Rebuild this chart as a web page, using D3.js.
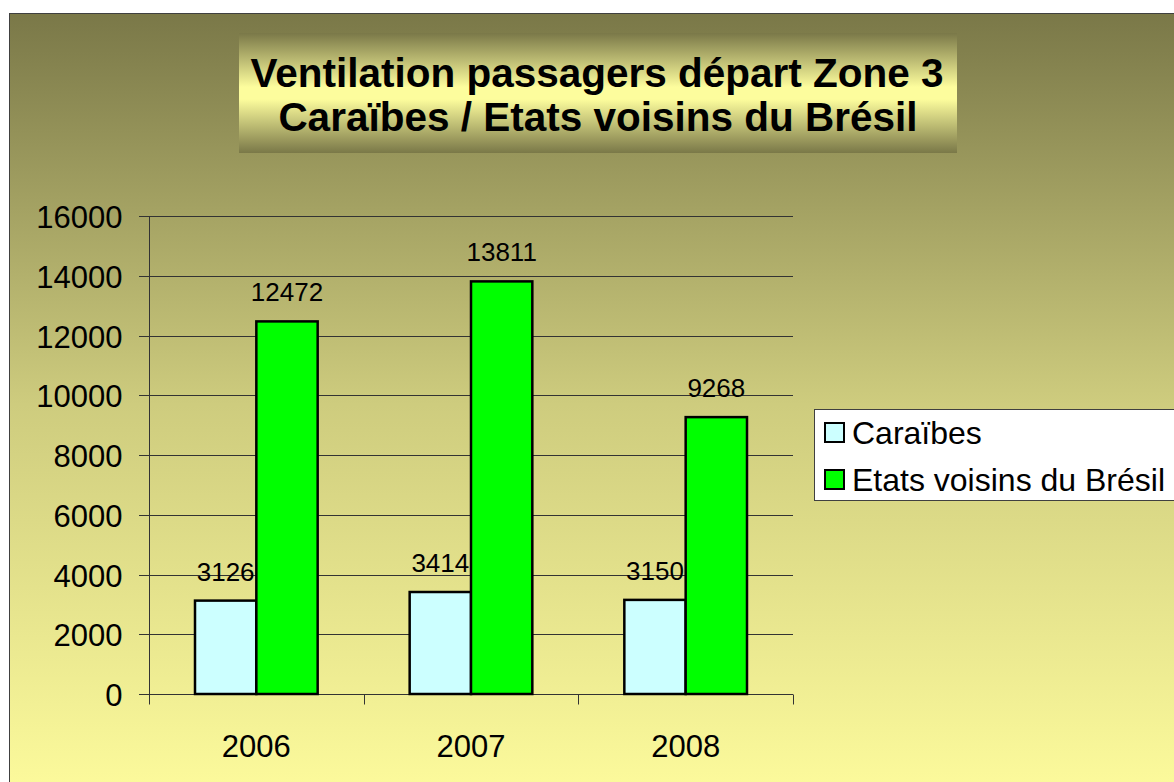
<!DOCTYPE html>
<html>
<head>
<meta charset="utf-8">
<script src="https://cdn.jsdelivr.net/npm/d3@7"></script>
<style>
  body { margin: 0; background: #fff; }
  text { font-family: Arial, "Liberation Sans", sans-serif; }
</style>
</head>
<body>
<div id="chart"></div>
<script>
// données
var years = ['2006', '2007', '2008'];
var seriesNames = ['Caraïbes', 'Etats voisins du Brésil'];
var caraibes = [3126, 3414, 3150];
var etatsVoisins = [12472, 13811, 9268];
var yTicks = [0, 2000, 4000, 6000, 8000, 10000, 12000, 14000, 16000];
var colors = ['#ccffff', '#00ff00'];

(function () {
    var W = 1174, H = 782;
    var svg = d3.select('#chart').append('svg').attr('width', W).attr('height', H);
    var defs = svg.append('defs');

    var bg = defs.append('linearGradient').attr('id', 'bg').attr('x1', 0).attr('y1', 0).attr('x2', 0).attr('y2', 1);
    bg.append('stop').attr('offset', '0%').attr('stop-color', '#7a7848');
    bg.append('stop').attr('offset', '50%').attr('stop-color', '#cecc7e');
    bg.append('stop').attr('offset', '100%').attr('stop-color', '#fdfb9c');

    var tg = defs.append('linearGradient').attr('id', 'tg').attr('x1', 0).attr('y1', 0).attr('x2', 0).attr('y2', 1);
    tg.append('stop').attr('offset', '0%').attr('stop-color', '#7a7848');
    tg.append('stop').attr('offset', '45%').attr('stop-color', '#fdfd9d');
    tg.append('stop').attr('offset', '55%').attr('stop-color', '#fdfd9d');
    tg.append('stop').attr('offset', '100%').attr('stop-color', '#7a7848');

    // zone du graphique
    svg.append('rect')
        .attr('x', 9.5).attr('y', 13.5).attr('width', W + 10).attr('height', H)
        .attr('fill', 'url(#bg)').attr('stroke', '#404040').attr('stroke-width', 1);

    // titre
    svg.append('rect')
        .attr('x', 239).attr('y', 33).attr('width', 718).attr('height', 120)
        .attr('fill', 'url(#tg)');
    svg.append('text').attr('x', 597).attr('y', 87).attr('text-anchor', 'middle')
        .attr('font-size', 40.5).attr('font-weight', 'bold')
        .text('Ventilation passagers départ Zone 3');
    svg.append('text').attr('x', 598).attr('y', 131).attr('text-anchor', 'middle')
        .attr('font-size', 40.5).attr('font-weight', 'bold')
        .text('Caraïbes / Etats voisins du Brésil');

    // échelles
    var pLeft = 149, pRight = 793, pTop = 216, pBottom = 694;
    var y = d3.scaleLinear().domain([0, 16000]).range([pBottom, pTop]);
    var x0 = d3.scaleBand().domain(years).range([pLeft, pRight]).paddingInner(0).paddingOuter(0);
    var x1 = d3.scaleBand().domain([0, 1]).range([0, x0.bandwidth()]).paddingOuter(0.75).paddingInner(0);

    // grille
    svg.append('g').selectAll('line').data(yTicks).enter().append('line')
        .attr('x1', pLeft - 10).attr('x2', pRight)
        .attr('y1', function (d) { return Math.round(y(d)) + 0.5; })
        .attr('y2', function (d) { return Math.round(y(d)) + 0.5; })
        .attr('stroke', '#333').attr('stroke-width', 1);

    // axe Y
    var yAxis = svg.append('g').attr('transform', 'translate(' + (pLeft + 0.5) + ',0.5)')
        .call(d3.axisLeft(y).tickValues(yTicks).tickSize(0).tickPadding(27).tickFormat(d3.format('d')));
    yAxis.select('.domain').attr('stroke', '#333').attr('d', 'M0,' + pTop + 'V' + (pBottom + 10));
    yAxis.selectAll('text').attr('font-size', 31).attr('fill', '#000')
        .attr('font-family', 'Arial, "Liberation Sans", sans-serif').attr('dy', '0.36em');

    // axe X
    var xAxis = svg.append('g').attr('transform', 'translate(0,' + (pBottom + 0.5) + ')');
    xAxis.append('line').attr('x1', pLeft).attr('x2', pRight).attr('stroke', '#333');
    var xt = years.map(function (d) { return x0(d) + x0.bandwidth(); });
    xAxis.selectAll('.tk').data(xt).enter().append('line')
        .attr('x1', function (d) { return Math.round(d) + 0.5; })
        .attr('x2', function (d) { return Math.round(d) + 0.5; })
        .attr('y1', 0).attr('y2', 10).attr('stroke', '#333');
    xAxis.selectAll('text').data(years).enter().append('text')
        .attr('x', function (d) { return x0(d) + x0.bandwidth() / 2; })
        .attr('y', 62).attr('text-anchor', 'middle').attr('font-size', 31)
        .text(function (d) { return d; });

    // barres
    var series = [caraibes, etatsVoisins];
    series.forEach(function (vals, s) {
        var g = svg.append('g');
        g.selectAll('rect').data(vals).enter().append('rect')
            .attr('x', function (d, i) { return x0(years[i]) + x1(s); })
            .attr('y', function (d) { return y(d); })
            .attr('width', x1.bandwidth())
            .attr('height', function (d) { return pBottom - y(d); })
            .attr('fill', colors[s]).attr('stroke', '#000').attr('stroke-width', 2.5);
        g.selectAll('text').data(vals).enter().append('text')
            .attr('x', function (d, i) { return x0(years[i]) + x1(s) + x1.bandwidth() / 2; })
            .attr('y', function (d) { return y(d) - 20; })
            .attr('text-anchor', 'middle').attr('font-size', 26)
            .text(function (d) { return d; });
    });

    // légende
    var leg = svg.append('g');
    leg.append('rect').attr('x', 814.5).attr('y', 409.5).attr('width', 380).attr('height', 91)
        .attr('fill', '#fff').attr('stroke', '#404040').attr('stroke-width', 1);
    seriesNames.forEach(function (n, i) {
        var cy = 433 + i * 47;
        leg.append('rect').attr('x', 825).attr('y', cy - 10).attr('width', 19).attr('height', 19)
            .attr('fill', colors[i]).attr('stroke', '#000').attr('stroke-width', 2);
        leg.append('text').attr('x', 852).attr('y', cy + 11).attr('font-size', 32).text(n);
    });
})();
</script>
</body>
</html>
